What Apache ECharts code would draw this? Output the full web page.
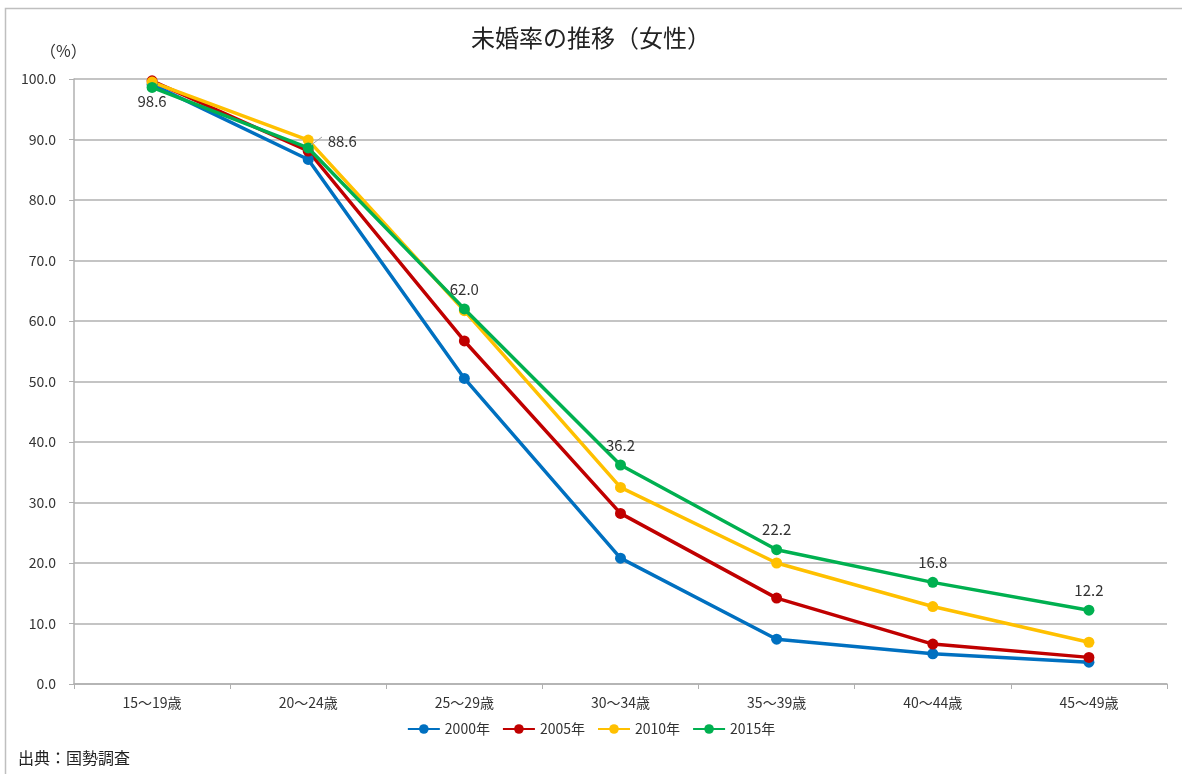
<!DOCTYPE html>
<html>
<head>
<meta charset="utf-8">
<script src="https://cdn.jsdelivr.net/npm/echarts@6/dist/echarts.min.js"></script>
<style>
html,body{margin:0;padding:0;background:#fff;}
#chart{width:1182px;height:774px;}
</style>
</head>
<body>
<div id="chart"></div>
<script>
// 年齢階級別 未婚率（女性）
const categories = ['15～19歳', '20～24歳', '25～29歳', '30～34歳', '35～39歳', '40～44歳', '45～49歳'];
const years = ['2000年', '2005年', '2010年', '2015年'];
const rate2000 = [99.1, 86.7, 50.5, 20.8, 7.4, 5.0, 3.6];
const rate2005 = [99.7, 88.1, 56.7, 28.2, 14.2, 6.6, 4.4];
const rate2010 = [99.5, 89.9, 61.7, 32.5, 20.0, 12.8, 6.9];
const rate2015 = [98.6, 88.6, 62.0, 36.2, 22.2, 16.8, 12.2];
const yTicks = ['0.0', '10.0', '20.0', '30.0', '40.0', '50.0', '60.0', '70.0', '80.0', '90.0', '100.0'];
const colors = ['#0070c0', '#c00000', '#ffc000', '#00b050'];

const FONT = '"Noto Sans CJK JP", "Noto Sans", sans-serif';
const chart = echarts.init(document.getElementById('chart'));

function lineSeries(name, data, color, withLabels) {
  const s = {
    name: name,
    type: 'line',
    data: data,
    symbol: 'circle',
    symbolSize: 11,
    lineStyle: { width: 3.5, color: color },
    itemStyle: { color: color },
    emphasis: { disabled: true },
    z: 2
  };
  if (withLabels) {
    s.label = {
      show: true,
      position: 'top',
      distance: 7,
      color: '#333',
      fontSize: 15,
      fontFamily: FONT,
      formatter: p => p.value.toFixed(1)
    };
    // 最初の2点はラベル位置を個別に調整
    s.data = data.map((v, i) => {
      if (i === 0) return { value: v, label: { position: 'bottom', distance: 1 } };
      if (i === 1) return { value: v, label: { position: 'right', distance: 14, offset: [0, -7] } };
      return v;
    });
    s.z = 3;
  }
  return s;
}

chart.setOption({
  animation: false,
  color: colors,
  title: {
    text: '未婚率の推移（女性）',
    left: 'center',
    top: 21,
    textStyle: { fontFamily: FONT, fontSize: 24, fontWeight: 'normal', color: '#222' }
  },
  graphic: [
    { type: 'rect', shape: { x: 5.5, y: 8.5, width: 1300, height: 900 }, style: { fill: 'none', stroke: '#bfbfbf', lineWidth: 1.5 }, silent: true },
    { type: 'text', left: 40, top: 43, style: { text: '（%）', font: '16px ' + FONT, fill: '#333' } },
    { type: 'text', left: 18, top: 750, style: { text: '出典：国勢調査', font: '16px ' + FONT, fill: '#222' } },
    // 20～24歳ラベルへの引出線
    { type: 'line', shape: { x1: 311, y1: 145, x2: 322, y2: 137 }, style: { stroke: '#a0a0a0', lineWidth: 1 }, z: 10, silent: true }
  ],
  legend: {
    data: years,
    bottom: 33,
    left: 'center',
    itemWidth: 32,
    itemHeight: 12,
    itemGap: 12,
    textStyle: { fontFamily: FONT, fontSize: 14, color: '#333' }
  },
  grid: { left: 74, right: 15, top: 79, bottom: 90, containLabel: false },
  xAxis: {
    type: 'category',
    data: categories,
    boundaryGap: true,
    axisLine: { lineStyle: { color: '#b0b0b0', width: 1.5 } },
    axisTick: { show: true, length: 5, lineStyle: { color: '#b0b0b0' } },
    axisLabel: { color: '#333', fontSize: 14, fontFamily: FONT, margin: 12 }
  },
  yAxis: {
    type: 'value',
    min: 0,
    max: 100,
    interval: 10,
    axisLine: { show: true, lineStyle: { color: '#b0b0b0', width: 1.5 } },
    axisTick: { show: true, length: 5, lineStyle: { color: '#b0b0b0' } },
    splitLine: { lineStyle: { color: '#b0b0b0', width: 1.5 } },
    axisLabel: {
      color: '#333', fontSize: 14, fontFamily: FONT, margin: 18,
      formatter: v => yTicks[Math.round(v / 10)]
    }
  },
  series: [
    lineSeries(years[0], rate2000, colors[0], false),
    lineSeries(years[1], rate2005, colors[1], false),
    lineSeries(years[2], rate2010, colors[2], false),
    lineSeries(years[3], rate2015, colors[3], true)
  ]
});
</script>
</body>
</html>
